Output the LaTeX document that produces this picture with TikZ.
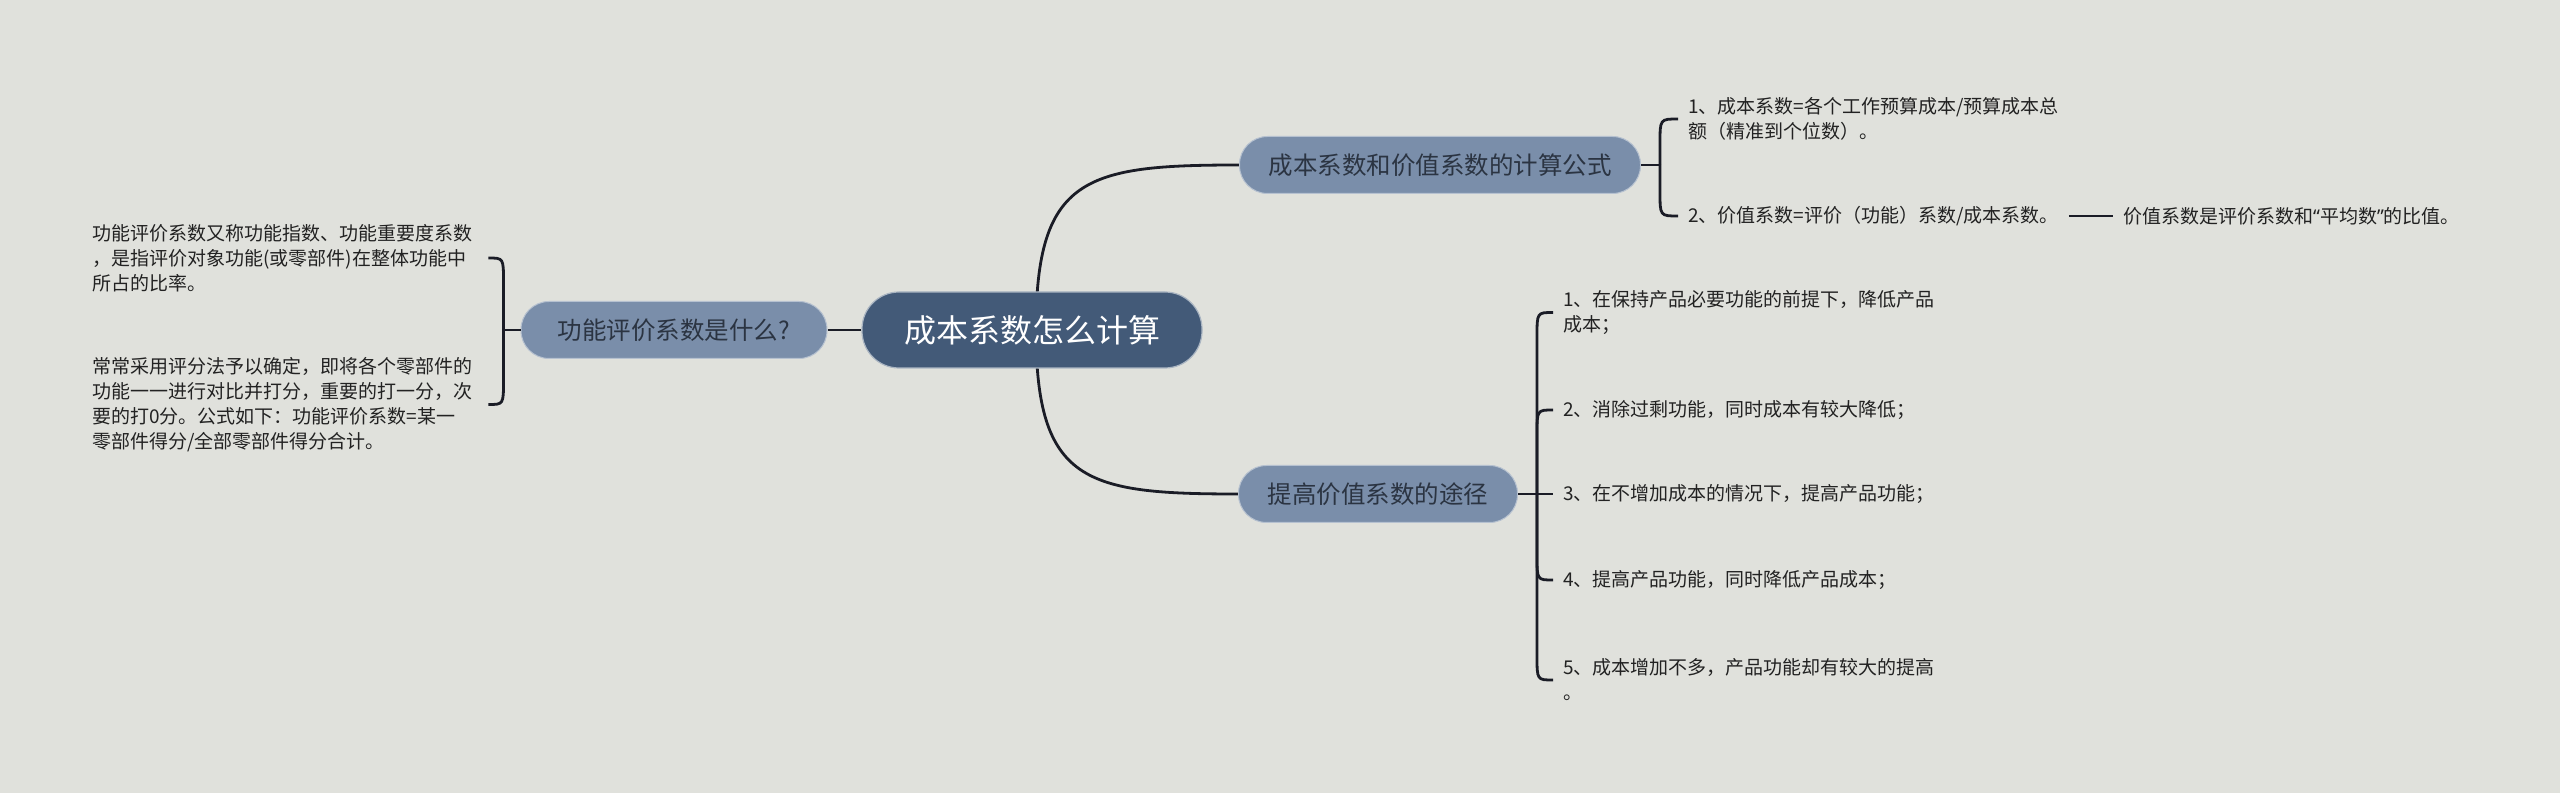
\documentclass[tikz,border=0pt]{standalone}
\usepackage{fontspec}
\setmainfont{Noto Sans CJK SC}
\newfontfamily\latinq{Noto Sans}
\usetikzlibrary{calc,backgrounds}
\definecolor{bgcol}{HTML}{E0E1DC}
\definecolor{rootblue}{HTML}{435A78}
\definecolor{topicblue}{HTML}{7A8EAA}
\definecolor{topictext}{HTML}{2B3442}
\definecolor{leaftext}{HTML}{222222}
\definecolor{linecol}{HTML}{1A1C26}
\tikzset{
    root/.style = {rectangle, rounded corners=37pt, fill=rootblue, draw=white!55!rootblue, line width=1.2pt,
                   minimum width=340pt, minimum height=76pt, text=white, font=\fontsize{32}{38}\selectfont},
    topic/.style = {rectangle, rounded corners=28pt, fill=topicblue, draw=white!45!topicblue, line width=1pt,
                    minimum height=57pt, inner xsep=0pt, text=topictext, font=\fontsize{24.5}{30}\selectfont},
    leaf/.style = {anchor=west, inner xsep=10pt, inner ysep=0pt, align=left, text=leaftext,
                   font=\fontsize{19}{25}\selectfont},
    conn/.style = {draw=linecol, line width=2.8pt}
}

\begin{document}
\begin{tikzpicture}[x=1pt,y=1pt]
    \useasboundingbox (0,0) rectangle (2560,793);

    % main topics
    \node[root]                        (root) at (1032,463) {成本系数怎么计算};
    \node[topic, minimum width=306pt]  (func) at (674,463)  {功能评价系数是什么?};
    \node[topic, minimum width=401pt]  (calc) at (1440,628) {成本系数和价值系数的计算公式};
    \node[topic, minimum width=279pt]  (prod) at (1378,299) {提高价值系数的途径};

    % left branch
    \node[leaf, text width=386pt] (fl1) at (82,535)   {功能评价系数又称功能指数、功能重要度系数\\，是指评价对象功能(或零部件)在整体功能中\\所占的比率。};
    \node[leaf, text width=386pt] (fl2) at (82,388.5) {常常采用评分法予以确定，即将各个零部件的\\功能一一进行对比并打分，重要的打一分，次\\要的打0分。公式如下：功能评价系数=某一\\零部件得分/全部零部件得分合计。};

    % upper right branch
    \node[leaf] (cl1) at (1678,674) {1、成本系数=各个工作预算成本/预算成本总\\额（精准到个位数）。};
    \node[leaf] (cl2) at (1678,577) {2、价值系数=评价（功能）系数/成本系数。};
    \node[leaf] (cl3) at (2113,577) {价值系数是评价系数和{\latinq “}平均数{\latinq ”}的比值。};

    % lower right branch
    \node[leaf] (pl1) at (1553,480.5) {1、在保持产品必要功能的前提下，降低产品\\成本；};
    \node[leaf] (pl2) at (1553,383)   {2、消除过剩功能，同时成本有较大降低；};
    \node[leaf] (pl3) at (1553,299)   {3、在不增加成本的情况下，提高产品功能；};
    \node[leaf] (pl4) at (1553,213)   {4、提高产品功能，同时降低产品成本；};
    \node[leaf] (pl5) at (1553,113)   {5、成本增加不多，产品功能却有较大的提高\\。};

    \coordinate (fj) at ([xshift=-17pt]func.west);
    \coordinate (cj) at ([xshift=19pt]calc.east);
    \coordinate (pj) at ([xshift=19pt]prod.east);

    \begin{pgfonlayer}{background}
        \fill[bgcol] (0,0) rectangle (2560,793);
        \draw[conn] ([xshift=4pt]root.center) to[out=90,in=180,looseness=1.5] (calc.west);
        \draw[conn] ([xshift=4pt]root.center) to[out=-90,in=180,looseness=1.5] (prod.west);
        \draw[conn] (root.west) -- (func.east);
    \end{pgfonlayer}

    % brackets
    \draw[conn] (func.west) -- (fj);
    \draw[conn] (fj) -- ($(fj |- fl1.east)+(0,-24)$) .. controls (fj |- fl1.east) .. (fl1.east);
    \draw[conn] (fj) -- ($(fj |- fl2.east)+(0,24)$) .. controls (fj |- fl2.east) .. (fl2.east);

    \draw[conn] (calc.east) -- (cj);
    \draw[conn] (cj) -- ($(cj |- cl1.west)+(0,-24)$) .. controls (cj |- cl1.west) .. (cl1.west);
    \draw[conn] (cj) -- ($(cj |- cl2.west)+(0,24)$) .. controls (cj |- cl2.west) .. (cl2.west);
    \draw[conn] (cl2.east) -- (cl3.west);

    \draw[conn] (prod.east) -- (pl3.west);
    \draw[conn] (pj) -- ($(pj |- pl1.west)+(0,-24)$) .. controls (pj |- pl1.west) .. (pl1.west);
    \draw[conn] (pj) -- ($(pj |- pl2.west)+(0,-24)$) .. controls (pj |- pl2.west) .. (pl2.west);
    \draw[conn] (pj) -- ($(pj |- pl4.west)+(0,24)$) .. controls (pj |- pl4.west) .. (pl4.west);
    \draw[conn] (pj) -- ($(pj |- pl5.west)+(0,24)$) .. controls (pj |- pl5.west) .. (pl5.west);
\end{tikzpicture}
\end{document}
